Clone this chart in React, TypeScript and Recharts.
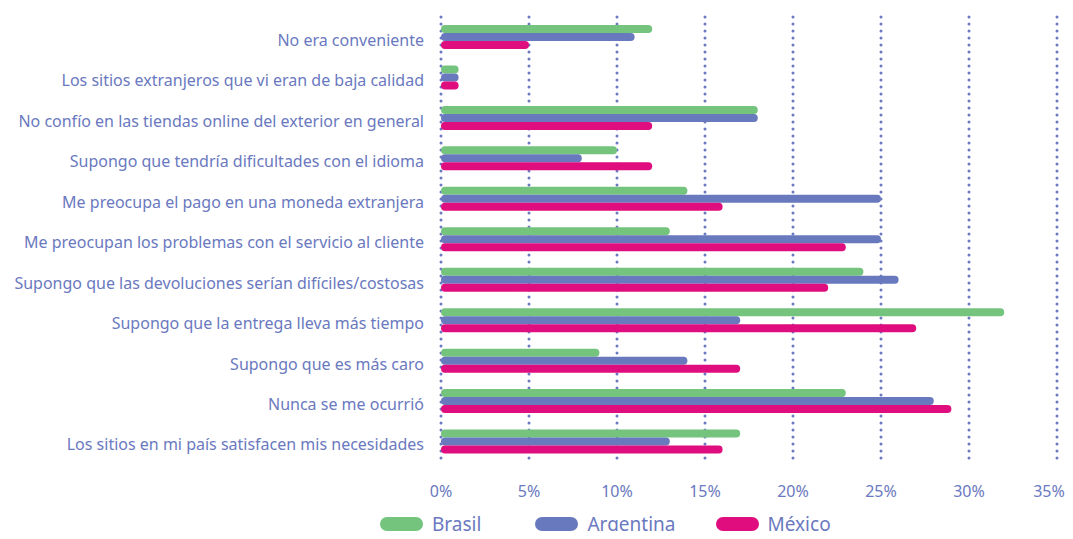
import React from "react";
import { BarChart, Bar, XAxis, YAxis, CartesianGrid, Legend } from "recharts";

const categories = [
  "No era conveniente",
  "Los sitios extranjeros que vi eran de baja calidad",
  "No confío en las tiendas online del exterior en general",
  "Supongo que tendría dificultades con el idioma",
  "Me preocupa el pago en una moneda extranjera",
  "Me preocupan los problemas con el servicio al cliente",
  "Supongo que las devoluciones serían difíciles/costosas",
  "Supongo que la entrega lleva más tiempo",
  "Supongo que es más caro",
  "Nunca se me ocurrió",
  "Los sitios en mi país satisfacen mis necesidades",
];

const brasil = [12, 1, 18, 10, 14, 13, 24, 32, 9, 23, 17];
const argentina = [11, 1, 18, 8, 25, 25, 26, 17, 14, 28, 13];
const mexico = [5, 1, 12, 12, 16, 23, 22, 27, 17, 29, 16];

const xTicks = [0, 5, 10, 15, 20, 25, 30, 35];

const series = [
  { key: "brasil", name: "Brasil", color: "#74c47e" },
  { key: "argentina", name: "Argentina", color: "#6879bd" },
  { key: "mexico", name: "México", color: "#e00d7e" },
];

const TEXT = "#6a79c0";
const FONT = "'Noto Sans', sans-serif";

const data = categories.map((c, i) => ({
  category: c,
  brasil: brasil[i],
  argentina: argentina[i],
  mexico: mexico[i],
}));

// gaps between legend items, to line up with the original
const legendGaps = [0, 54, 40];

const LegendContent = () => (
  <div style={{ display: "flex", alignItems: "center", paddingLeft: 372, fontFamily: FONT }}>
    {series.map((s, i) => (
      <div key={s.key} style={{ display: "flex", alignItems: "center", marginLeft: legendGaps[i] }}>
        <span style={{ display: "inline-block", width: 43, height: 14, borderRadius: 7, background: s.color }} />
        <span style={{ marginLeft: 9, fontSize: 19, color: TEXT, lineHeight: "24px" }}>{s.name}</span>
      </div>
    ))}
  </div>
);

// category labels sit a little lower than the bar group centre
const CategoryTick = ({ x, y, payload }: any) => (
  <text x={x} y={y + 3} dy="0.355em" textAnchor="end" fill={TEXT} fontSize={16} fontFamily={FONT}>
    {payload.value}
  </text>
);

// last percentage label nudged left so it stays inside the edge
const PercentTick = ({ x, y, payload }: any) => {
  const last = payload.value === xTicks[xTicks.length - 1];
  return (
    <text x={last ? x - 8 : x} y={y} dy="0.71em" textAnchor="middle" fill={TEXT} fontSize={16} fontFamily={FONT}>
      {`${payload.value}%`}
    </text>
  );
};

export default function App() {
  return (
    <div style={{ width: 1065, height: 531, overflow: "hidden", marginBottom: -8 }}>
      <style>{"html,body{overflow:hidden}"}</style>
      <BarChart
        width={1065}
        height={560}
        data={data}
        layout="vertical"
        margin={{ top: 9, right: 16, bottom: 26, left: 0 }}
        barGap={0}
        barSize={8}
      >
        <CartesianGrid
          horizontal={false}
          stroke={TEXT}
          strokeWidth={3}
          strokeDasharray="0 7"
          strokeLinecap="round"
        />
        <XAxis
          type="number"
          domain={[0, 35]}
          ticks={xTicks}
          axisLine={false}
          tickLine={false}
          height={50}
          tickMargin={18}
          tick={<PercentTick />}
        />
        <YAxis
          type="category"
          dataKey="category"
          width={433}
          axisLine={false}
          tickLine={false}
          tickMargin={11}
          interval={0}
          tick={<CategoryTick />}
        />
        <Legend verticalAlign="bottom" height={30} content={<LegendContent />} />
        {series.map((s) => (
          <Bar
            key={s.key}
            dataKey={s.key}
            name={s.name}
            fill={s.color}
            radius={4}
            isAnimationActive={false}
          />
        ))}
      </BarChart>
    </div>
  );
}
